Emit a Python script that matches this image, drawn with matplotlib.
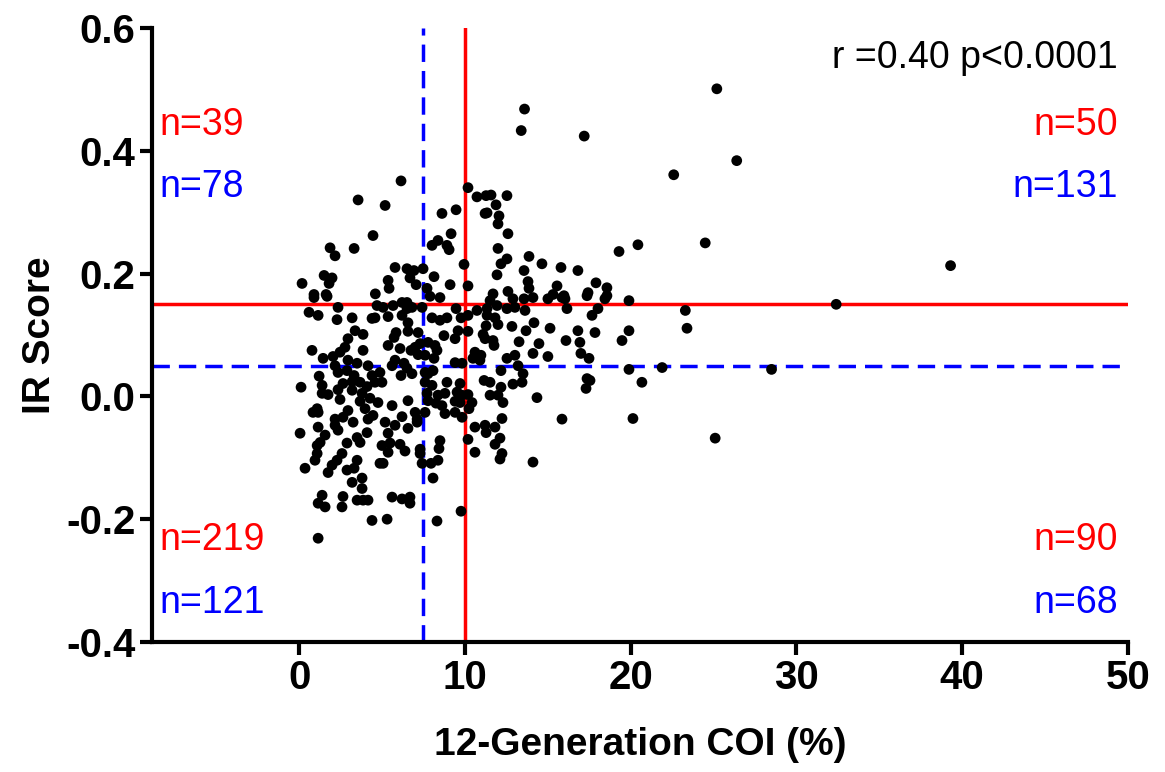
import matplotlib
matplotlib.use("Agg")
import matplotlib.pyplot as plt

plt.rcParams['font.family'] = ['Liberation Sans', 'DejaVu Sans']

# --- data (12-generation COI %, IR score) ---
coi = [
    # sparse / outliers
    25.2, 13.6, 13.4, 17.2, 26.4, 22.6, 24.5, 39.3, 32.4, 23.3, 23.4, 28.5, 25.1, 21.9,
    # upper-left cluster
    3.56, 4.46, 1.87, 2.17, 3.32, 1.51, 1.99, 1.81, 0.18, 0.90, 1.63,
    6.15, 5.19, 8.62, 9.47, 9.17, 8.38, 8.02, 8.92, 9.05, 9.95, 5.79, 6.51, 6.93, 7.48,
    6.69, 8.14, 5.37, 7.06, 9.11, 5.43, 7.72, 4.60,
    # upper-right cluster
    10.19, 10.73, 11.28, 11.58, 12.54, 11.88, 11.22, 11.34, 12.06, 12.00, 12.60, 12.00,
    12.54, 12.18, 13.87, 14.65, 13.57, 11.94, 13.81, 10.19, 13.87, 11.70, 12.60, 15.32,
    19.30, 20.44, 15.80, 16.82, 17.91, 18.57, 15.56, 17.43, 15.98, 18.57,
    # middle-left band
    0.90, 1.69, 2.35, 0.60, 1.15, 2.29, 3.20, 4.40, 3.38, 3.86, 2.95, 2.77, 0.78, 2.47,
    3.86, 2.05, 1.45, 2.95, 3.50, 2.17, 4.16, 1.21, 2.35, 2.89, 3.32, 4.40, 0.12, 1.39,
    2.65, 3.20, 3.68, 4.10, 1.39, 1.75, 2.35, 3.20, 3.80, 2.47, 3.68, 4.28, 1.09, 0.84,
    1.15, 2.95, 3.98, 2.65, 2.17, 4.46, 4.16,
    # middle band 4.5-10
    4.70, 5.07, 5.67, 6.21, 6.51, 6.51, 6.81, 7.42, 7.90, 8.50, 9.47, 4.58, 5.37, 6.21,
    6.57, 8.02, 8.50, 8.92, 9.77, 7.18, 6.57, 5.85, 5.73, 5.37, 6.09, 7.30, 7.00, 7.78,
    8.20, 8.74, 9.41, 9.59, 6.75, 7.18, 7.60, 8.32, 8.14, 5.79, 5.61, 6.33, 6.51, 9.41,
    9.83, 4.88, 6.15, 6.81, 7.60, 7.78, 8.08, 4.58, 5.00, 7.60, 8.02, 8.92, 9.71, 8.38,
    8.80, 7.72, 9.53, 9.83, 4.76, 6.57, 5.61, 7.78, 8.26, 7.00, 8.62, 9.41, 9.71, 6.21,
    7.60, 8.80, 9.41, 9.83, 7.12,
    # middle band 10-15
    10.19, 10.19, 10.73, 11.34, 11.94, 11.52, 12.90, 13.57, 14.11, 15.01, 12.54, 13.02,
    13.63, 11.82, 11.34, 12.00, 11.28, 11.10, 11.22, 11.70, 11.76, 12.84, 13.69, 14.17,
    15.14, 13.27, 14.47, 10.61, 10.97, 10.49, 10.91, 14.11, 15.01, 12.54, 13.02, 13.21,
    12.18, 13.51, 11.16, 11.52, 12.18, 12.90, 13.45, 10.19, 11.52, 12.00, 10.43, 12.30,
    14.35, 10.25, 12.24,
    # middle band 15-21
    15.86, 16.04, 17.37, 18.45, 19.90, 16.16, 18.03, 17.67, 16.82, 17.85, 19.90, 16.10,
    16.94, 19.48, 17.00, 17.49, 19.90, 17.37, 17.55, 17.31, 20.68, 15.86, 20.14,
    # lower-left cluster
    0.06, 1.15, 2.17, 2.35, 3.26, 4.10, 3.50, 3.68, 1.57, 1.27, 1.09, 2.89, 1.09, 0.96,
    0.36, 2.59, 2.29, 1.99, 1.75, 3.50, 3.32, 2.89, 3.80, 3.20, 3.80, 1.39, 2.65, 1.15,
    1.57, 2.59, 3.50, 3.86, 4.16, 4.40, 1.15,
    # lower-middle
    5.19, 5.79, 6.57, 7.12, 5.37, 5.00, 5.49, 6.09, 5.37, 6.39, 7.30, 7.30, 8.50, 8.44,
    4.88, 5.07, 7.42, 7.96, 8.38, 8.08, 5.61, 6.21, 6.69, 6.69, 5.31, 8.32, 9.77,
    # lower-right
    10.61, 11.22, 11.28, 11.82, 10.19, 10.61, 12.12, 11.82, 12.24, 12.12, 14.11,
]
ir = [
    0.501, 0.468, 0.433, 0.424, 0.384, 0.361, 0.250, 0.213, 0.150, 0.140, 0.111, 0.044, -0.068, 0.047,
    0.320, 0.262, 0.242, 0.229, 0.241, 0.197, 0.193, 0.184, 0.184, 0.166, 0.166,
    0.351, 0.311, 0.298, 0.304, 0.265, 0.254, 0.246, 0.246, 0.239, 0.215, 0.210, 0.208, 0.205, 0.208,
    0.193, 0.195, 0.189, 0.182, 0.182, 0.176, 0.176, 0.167,
    0.340, 0.325, 0.327, 0.328, 0.327, 0.312, 0.298, 0.299, 0.294, 0.281, 0.265, 0.241,
    0.224, 0.216, 0.228, 0.216, 0.205, 0.198, 0.187, 0.180, 0.176, 0.167, 0.171, 0.166,
    0.236, 0.247, 0.210, 0.205, 0.185, 0.177, 0.180, 0.169, 0.164, 0.164,
    0.161, 0.163, 0.145, 0.137, 0.132, 0.125, 0.128, 0.127, 0.107, 0.101, 0.094, 0.080, 0.075, 0.072,
    0.075, 0.065, 0.062, 0.059, 0.054, 0.050, 0.050, 0.033, 0.039, 0.042, 0.034, 0.034, 0.015, 0.018,
    0.021, 0.024, 0.023, 0.016, 0.005, 0.003, 0.011, 0.010, 0.005, -0.005, -0.008, -0.003, -0.020, -0.026,
    -0.026, -0.023, -0.020, -0.034, -0.037, -0.031, -0.037,
    0.148, 0.145, 0.148, 0.153, 0.153, 0.143, 0.145, 0.145, 0.163, 0.161, 0.143, 0.128, 0.130, 0.132,
    0.120, 0.128, 0.124, 0.128, 0.128, 0.104, 0.106, 0.104, 0.096, 0.083, 0.078, 0.086, 0.080, 0.088,
    0.083, 0.099, 0.094, 0.107, 0.075, 0.068, 0.067, 0.075, 0.062, 0.059, 0.050, 0.054, 0.046, 0.055,
    0.054, 0.039, 0.034, 0.037, 0.039, 0.037, 0.042, 0.023, 0.023, 0.023, 0.018, 0.023, 0.021, 0.002,
    0.005, 0.005, 0.007, 0.002, -0.010, -0.007, -0.015, -0.007, -0.011, -0.026, -0.015, -0.008, -0.010, -0.033,
    -0.026, -0.028, -0.026, -0.034, -0.037,
    0.132, 0.106, 0.140, 0.143, 0.148, 0.156, 0.159, 0.159, 0.161, 0.159, 0.143, 0.145,
    0.140, 0.128, 0.132, 0.117, 0.115, 0.101, 0.094, 0.091, 0.083, 0.114, 0.107, 0.120,
    0.111, 0.089, 0.086, 0.072, 0.067, 0.062, 0.059, 0.070, 0.065, 0.062, 0.067, 0.050,
    0.042, 0.037, 0.026, 0.023, 0.015, 0.020, 0.023, 0.003, 0.002, 0.002, -0.010, -0.010,
    -0.002, -0.020, -0.036,
    0.161, 0.159, 0.164, 0.159, 0.156, 0.143, 0.143, 0.132, 0.107, 0.104, 0.107, 0.091,
    0.088, 0.091, 0.070, 0.062, 0.044, 0.029, 0.026, 0.013, 0.023, -0.037, -0.036,
    -0.060, -0.050, -0.047, -0.055, -0.042, -0.059, -0.067, -0.075, -0.063, -0.075, -0.080, -0.076, -0.093, -0.104,
    -0.117, -0.093, -0.104, -0.112, -0.124, -0.104, -0.117, -0.120, -0.133, -0.140, -0.150, -0.161, -0.163, -0.174,
    -0.180, -0.180, -0.169, -0.169, -0.169, -0.202, -0.231,
    -0.042, -0.047, -0.052, -0.042, -0.060, -0.080, -0.076, -0.078, -0.091, -0.089, -0.086, -0.093, -0.072, -0.085,
    -0.109, -0.109, -0.109, -0.109, -0.104, -0.133, -0.164, -0.167, -0.164, -0.174, -0.200, -0.203, -0.187,
    -0.050, -0.047, -0.059, -0.050, -0.070, -0.091, -0.068, -0.078, -0.093, -0.102, -0.107,
]

red_cut_x, red_cut_y = 10, 0.15
blue_cut_x, blue_cut_y = 7.5, 0.05
red_counts = ["n=39", "n=50", "n=219", "n=90"]
blue_counts = ["n=78", "n=131", "n=121", "n=68"]
stat_text = "r =0.40 p<0.0001"

RED = "#ff0000"
BLUE = "#0000ff"

fig = plt.figure(figsize=(11.65, 7.72), dpi=100)
ax = fig.add_axes([0.1305, 0.1684, 0.8377, 0.7953])

ax.set_xlim(-8.87, 50)
ax.set_ylim(-0.4, 0.6)

# threshold lines
ax.axvline(red_cut_x, color=RED, lw=2.5, zorder=2)
ax.axhline(red_cut_y, color=RED, lw=2.5, zorder=2)
ax.axvline(blue_cut_x, color=BLUE, lw=2.5, ls=(0, (5, 2.6)), zorder=2)
ax.axhline(blue_cut_y, color=BLUE, lw=2.5, ls=(0, (5, 2.6)), zorder=2)

ax.scatter(coi, ir, s=60, color="black", edgecolors="none", zorder=3)

# spines and ticks
for s in ["top", "right"]:
    ax.spines[s].set_visible(False)
for s in ["left", "bottom"]:
    ax.spines[s].set_linewidth(3.0)
ax.set_xticks([0, 10, 20, 30, 40, 50])
ax.set_yticks([-0.4, -0.2, 0.0, 0.2, 0.4, 0.6])
ax.set_yticklabels(["-0.4", "-0.2", "0.0", "0.2", "0.4", "0.6"])
ax.tick_params(axis="both", which="major", length=9, width=3.0, labelsize=29, pad=3)
for lab in ax.get_xticklabels() + ax.get_yticklabels():
    lab.set_fontweight("bold")

ax.set_xlabel("12-Generation COI (%)", fontsize=28, fontweight="bold", labelpad=22)
ax.set_ylabel("IR Score", fontsize=28, fontweight="bold", labelpad=6)

# annotations
fs = 27
ax.text(0.99, 0.951, stat_text, transform=ax.transAxes, ha="right", va="center", fontsize=fs, color="black")
ax.text(0.008, 0.842, red_counts[0], transform=ax.transAxes, ha="left", va="center", fontsize=fs, color=RED)
ax.text(0.008, 0.741, blue_counts[0], transform=ax.transAxes, ha="left", va="center", fontsize=fs, color=BLUE)
ax.text(0.99, 0.842, red_counts[1], transform=ax.transAxes, ha="right", va="center", fontsize=fs, color=RED)
ax.text(0.99, 0.741, blue_counts[1], transform=ax.transAxes, ha="right", va="center", fontsize=fs, color=BLUE)
ax.text(0.008, 0.166, red_counts[2], transform=ax.transAxes, ha="left", va="center", fontsize=fs, color=RED)
ax.text(0.008, 0.0635, blue_counts[2], transform=ax.transAxes, ha="left", va="center", fontsize=fs, color=BLUE)
ax.text(0.99, 0.166, red_counts[3], transform=ax.transAxes, ha="right", va="center", fontsize=fs, color=RED)
ax.text(0.99, 0.0635, blue_counts[3], transform=ax.transAxes, ha="right", va="center", fontsize=fs, color=BLUE)

fig.savefig("out.png", dpi=100)
